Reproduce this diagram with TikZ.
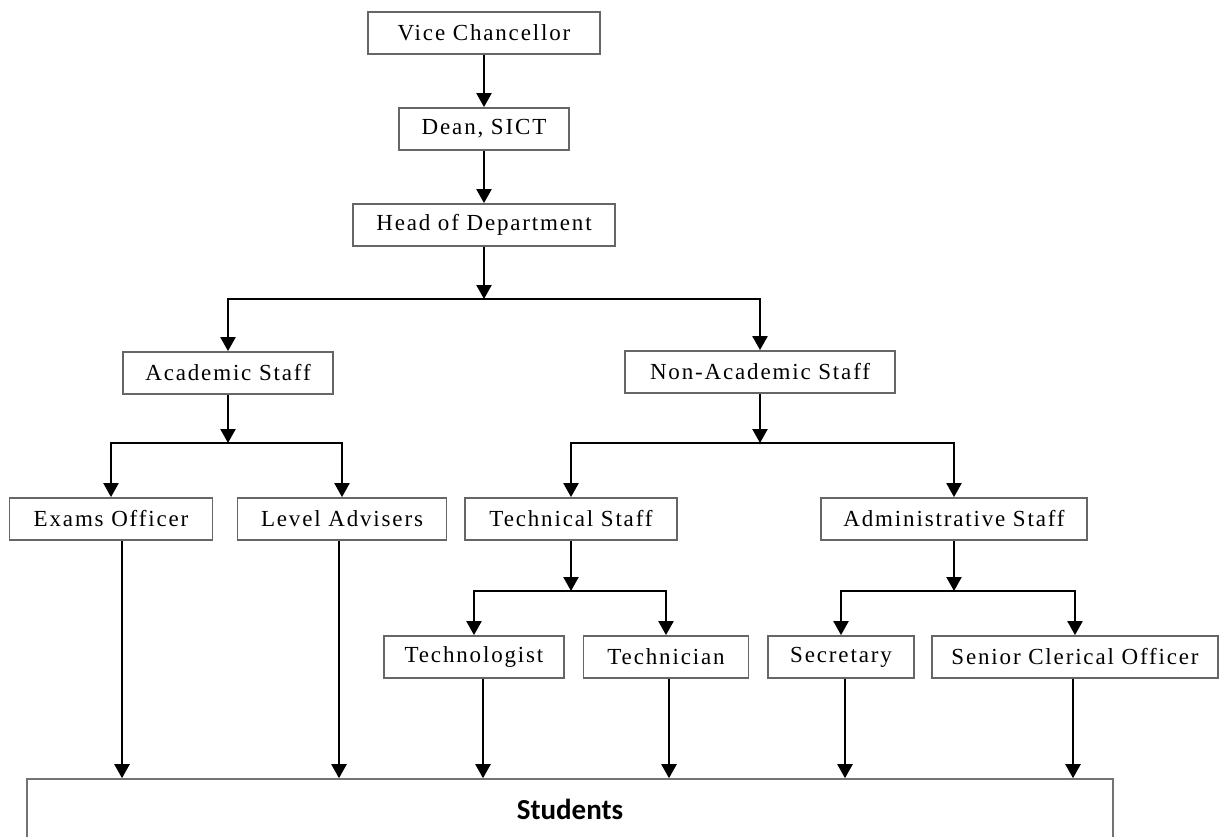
\documentclass[tikz,border=0pt]{standalone}
\usepackage{fontspec}
\setmainfont{Liberation Serif}
\newfontfamily\boxfont[LetterSpace=8]{Liberation Serif}
\newfontfamily\studfont{Carlito}
\usepackage{tikz}
\usetikzlibrary{arrows.meta,shapes}
\tikzstyle{post}=[rectangle,draw=black!60,line width=1.8pt,fill=white,inner sep=0pt,minimum height=42pt,font=\boxfont\fontsize{23}{26}\selectfont]
\tikzstyle{edge} = [draw,line width=2.2pt,-{Triangle[length=14pt,width=15pt]}]

\begin{document}
\begin{tikzpicture}[x=1pt,y=-1pt]
    \useasboundingbox (0,0) rectangle (1222,836);
    % Draw the staff chart
    % First we draw the boxes
    \foreach \pos/\name/\bw/\txt in {{(484,33)/vc/232/Vice Chancellor},
    {(484,129)/dean/170/Dean, SICT}, {(484,225)/hod/262/Head of Department},
    {(228,373)/acad/210/Academic Staff}, {(760,372)/nonacad/270/Non-Academic Staff},
    {(111,519)/exams/203/Exams Officer}, {(342,519)/level/209/Level Advisers},
    {(571,519)/tech/212/Technical Staff}, {(954,519)/admin/266/Administrative Staff},
    {(474,657)/technologist/180/Technologist}, {(666,657)/technician/165/Technician},
    {(841,657)/secretary/146/Secretary}, {(1075,657)/clerical/286/Senior Clerical Officer}}
        \node[post, minimum width=\bw pt] (\name) at \pos {\txt};
    \node[post, draw=black!55, line width=1.6pt, minimum width=1086pt, minimum height=60pt,
          font=\studfont\bfseries\fontsize{29}{33}\selectfont] (students) at (570,809) {Students};

    % Branch points
    \coordinate (hj) at (484,299);
    \coordinate (aj) at (228,443);
    \coordinate (nj) at (760,443);
    \coordinate (tj) at (571,591);
    \coordinate (dj) at (954,591);

    % Connect boxes with arrows
    \foreach \source/\dest in {vc/dean, dean/hod, hod/hj, acad/aj, nonacad/nj, tech/tj, admin/dj}
        \path[edge] (\source) -- (\dest);
    \foreach \source/\dest in {hj/acad, hj/nonacad, aj/exams, aj/level, nj/tech, nj/admin,
    tj/technologist, tj/technician, dj/secretary, dj/clerical}
        \path[edge] (\source) -| (\dest);
    \foreach \src/\dx in {exams/11, level/-3, technologist/9, technician/3, secretary/4, clerical/-2}
        \path[edge] ([xshift=\dx pt]\src.south) -- ([xshift=\dx pt]\src.south |- students.north);
\end{tikzpicture}
\end{document}
